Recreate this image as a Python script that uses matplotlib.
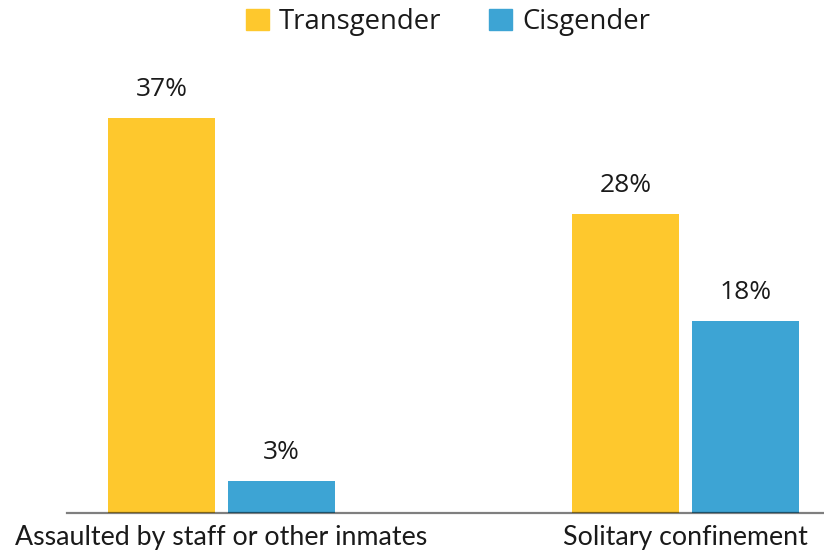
import numpy as np
import matplotlib.pyplot as plt
from matplotlib.patches import Patch

categories = ['Assaulted by staff or other inmates', 'Solitary confinement']
transgender = [37, 28]
cisgender = [3, 18]
series_names = ['Transgender', 'Cisgender']
colors = ['#FEC82D', '#3DA4D4']

W, H = 824, 556
fig = plt.figure(figsize=(W / 100, H / 100), dpi=100)

# axes placed in pixel terms: baseline at y=513, line from x=67 to right edge
left_px, right_px, base_px = 67, 824, 513
px_per_unit = 464.0
x0 = -(221.5 - left_px) / px_per_unit
x1 = (right_px - 221.5) / px_per_unit
ppp = 10.68  # pixels per percent
ytop = 45
top_px = base_px - ytop * ppp
ax = fig.add_axes([left_px / W, 1 - base_px / H, (right_px - left_px) / W, (base_px - top_px) / H])
ax.set_xlim(x0, x1)
ax.set_ylim(0, ytop)

x = np.arange(len(categories))
bw = 107 / px_per_unit
off = 60 / px_per_unit

b1 = ax.bar(x - off, transgender, bw, color=colors[0], zorder=2)
b2 = ax.bar(x + off, cisgender, bw, color=colors[1], zorder=2)

for bars, vals in [(b1, transgender), (b2, cisgender)]:
    for r, v in zip(bars, vals):
        ax.text(r.get_x() + r.get_width() / 2, v + 1.5, f'{v}%', ha='center', va='bottom',
                fontsize=19, family='Open Sans', color='#1a1a1a')

ax.axhline(0, color='black', alpha=0.5, lw=1.6, zorder=3, clip_on=False)

for s in ax.spines.values():
    s.set_visible(False)
ax.set_yticks([])
ax.set_xticks(x)
ax.set_xticklabels(categories, fontsize=19.3, family='Lato', color='#1a1a1a')
ax.tick_params(axis='x', length=0, pad=9)

handles = [Patch(color=c, label=n) for c, n in zip(colors, series_names)]
fig.legend(handles=handles, loc='center', bbox_to_anchor=(448 / W, 1 - 22 / H), ncol=2,
           frameon=False, prop={'family': 'Open Sans', 'size': 19.8},
           handlelength=0.84, handleheight=0.84, handletextpad=0.36, columnspacing=1.75,
           borderpad=0, labelcolor='#1a1a1a')

fig.savefig('out.png', dpi=100)
